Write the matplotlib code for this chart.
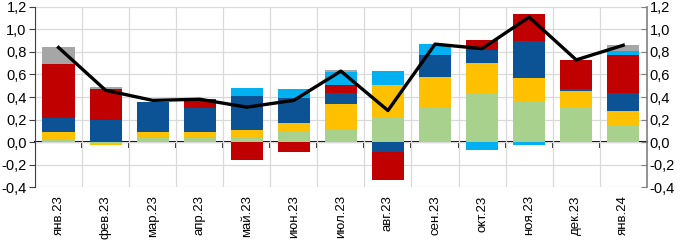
import numpy as np
import matplotlib
matplotlib.use("Agg")
import matplotlib.pyplot as plt
from matplotlib.ticker import FuncFormatter

plt.rcParams["font.family"] = ["Liberation Sans", "DejaVu Sans"]

months = ["янв.23", "фев.23", "мар.23", "апр.23", "май.23", "июн.23", "июл.23",
          "авг.23", "сен.23", "окт.23", "ноя.23", "дек.23", "янв.24"]

# components of the stacked bars, bottom to top
green = [0.02, -0.01, 0.04, 0.04, 0.04, 0.10, 0.11, 0.22, 0.31, 0.43, 0.36, 0.30, 0.14]
yellow = [0.07, -0.02, 0.05, 0.05, 0.07, 0.07, 0.23, 0.29, 0.27, 0.27, 0.21, 0.15, 0.14]
blue = [0.12, 0.20, 0.27, 0.21, 0.30, 0.22, 0.10, -0.09, 0.18, 0.12, 0.33, 0.02, 0.16]
red = [0.48, 0.27, 0.00, 0.08, -0.16, -0.09, 0.07, -0.25, 0.01, 0.09, 0.24, 0.26, 0.33]
lightblue = [0.00, 0.00, 0.00, 0.00, 0.07, 0.08, 0.11, 0.12, 0.10, -0.07, -0.03, 0.00, 0.04]
gray = [0.15, 0.02, 0.00, 0.00, 0.00, 0.00, 0.02, 0.00, 0.00, 0.00, 0.00, 0.00, 0.05]
total = [0.84, 0.46, 0.37, 0.38, 0.31, 0.37, 0.63, 0.28, 0.87, 0.83, 1.11, 0.73, 0.86]

series = [green, yellow, blue, red, lightblue, gray]
colors = ["#A9D18E", "#FFC000", "#0B5394", "#C00000", "#00B0F0", "#A6A6A6"]

fig = plt.figure(figsize=(6.83, 2.41), dpi=100)
ax = fig.add_axes([0.0512, 0.224, 0.8958, 0.747])

x = np.arange(len(months))
pos_base = np.zeros(len(months))
neg_base = np.zeros(len(months))
for vals, c in zip(series, colors):
    v = np.array(vals)
    base = np.where(v >= 0, pos_base, neg_base)
    ax.bar(x, v, 0.68, bottom=base, color=c, zorder=2)
    pos_base += np.where(v >= 0, v, 0)
    neg_base += np.where(v < 0, v, 0)

ax.plot(x, total, color="black", lw=2.4, zorder=4)

ax.set_xlim(-0.5, len(months) - 0.5)
ax.set_ylim(-0.4, 1.2)
yt = np.arange(-0.4, 1.21, 0.2)
ax.set_yticks(yt)
fmt = FuncFormatter(lambda v, p: f"{v:.1f}".replace(".", ",").replace("-0,0", "0,0"))
ax.yaxis.set_major_formatter(fmt)

ax.set_xticks(x)
ax.set_xticklabels(months, rotation=90, fontsize=9.5)
ax.tick_params(axis="x", length=0, pad=6)
ax.set_xticks(np.arange(-0.5, len(months)), minor=True)
ax.tick_params(axis="x", which="minor", length=0)
ax.grid(True, which="minor", axis="x", color="#D9D9D9", lw=0.9, zorder=0)
ax.grid(True, which="major", axis="y", color="#D9D9D9", lw=0.9, zorder=0)

ax.tick_params(axis="y", labelsize=10.5, direction="out", length=4, color="#404040", pad=2)
for s in ["top", "bottom", "right"]:
    ax.spines[s].set_visible(False)
ax.spines["left"].set_color("#404040")

# zero line with boundary ticks
sec = ax.secondary_xaxis(0.25)
sec.set_xticks(np.arange(-0.5, len(months))[1:-1])
sec.tick_params(axis="x", length=4, width=1.2, direction="out", labelbottom=False, labeltop=False)
sec.spines["bottom"].set_linewidth(1.5)
sec.spines["bottom"].set_zorder(3)

ax2 = ax.twinx()
ax2.set_ylim(-0.4, 1.2)
ax2.set_yticks(yt)
ax2.yaxis.set_major_formatter(fmt)
ax2.tick_params(axis="y", labelsize=10.5, direction="in", length=4, color="#808080", pad=2)
for s in ["top", "bottom", "left"]:
    ax2.spines[s].set_visible(False)
ax2.spines["right"].set_color("#808080")
ax2.spines["right"].set_linewidth(1.2)

fig.savefig("out.png", dpi=100)
